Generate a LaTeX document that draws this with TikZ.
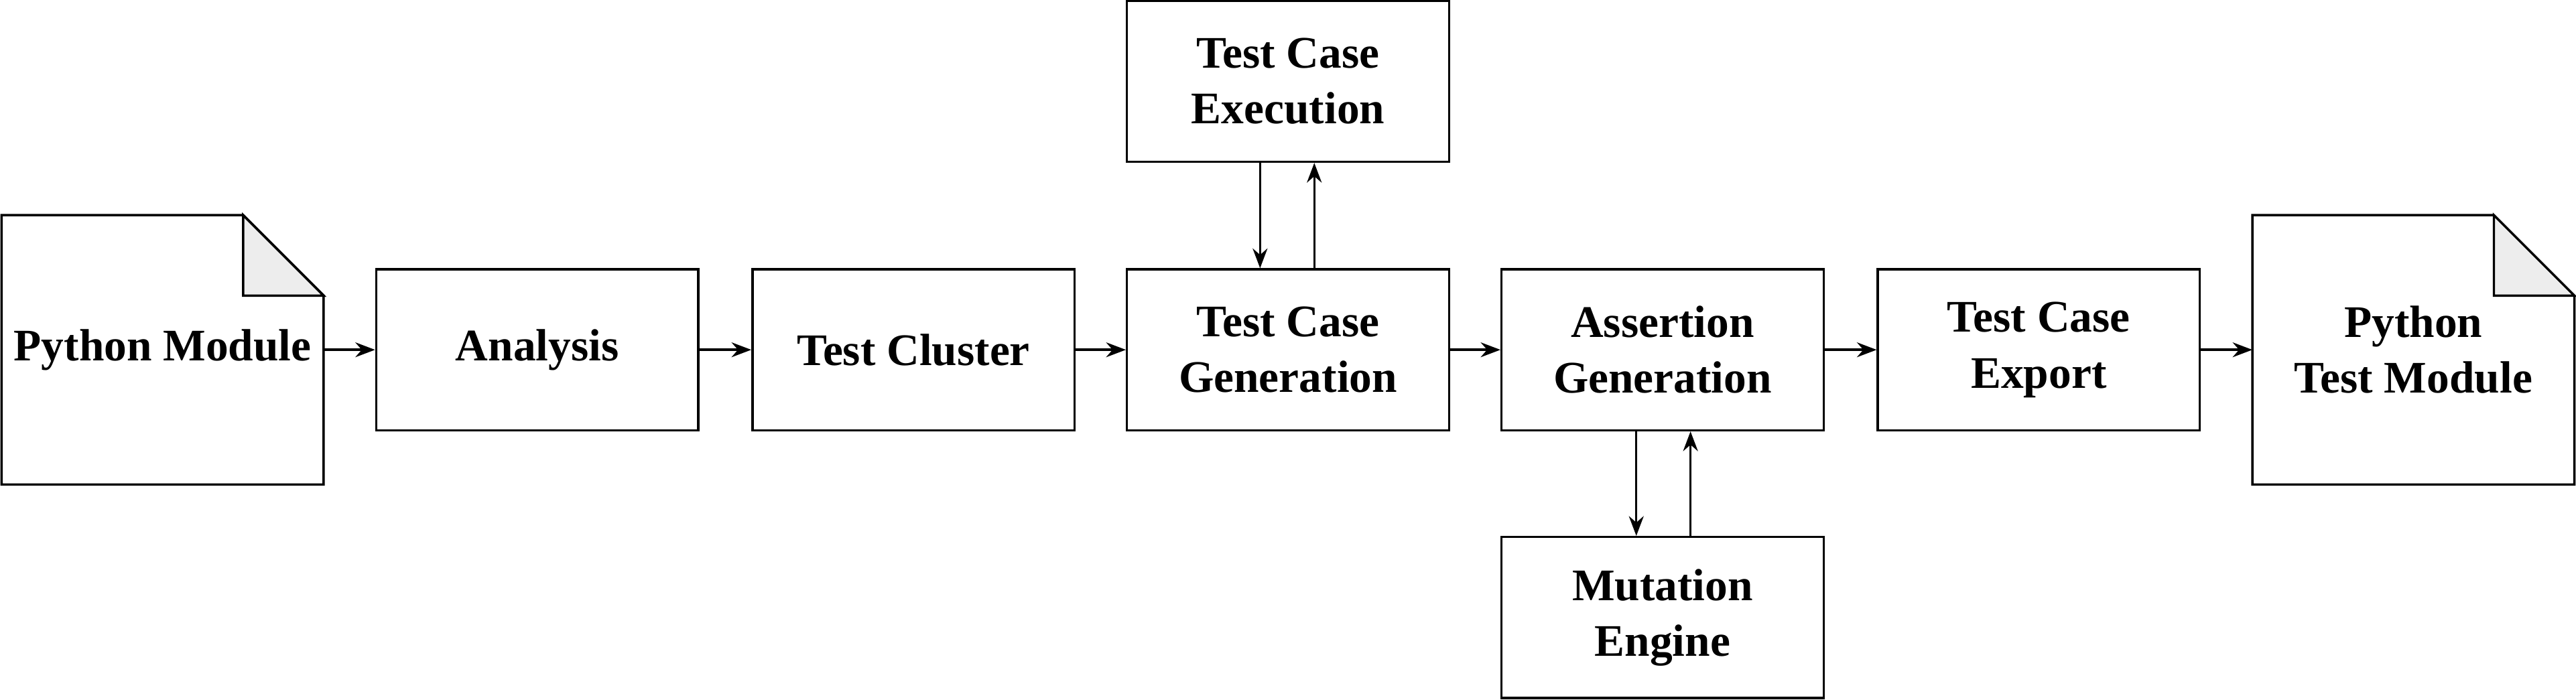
\documentclass[tikz,border=0pt]{standalone}
\usepackage{fontspec}
\setmainfont{Liberation Serif}
\usetikzlibrary{arrows.meta}
\begin{document}
\begin{tikzpicture}[x=1pt,y=-1pt,
  box/.style={draw,line width=1.4pt,minimum width=196pt,minimum height=98pt,align=center,font=\fontsize{27.5}{34}\selectfont\bfseries,inner sep=0pt},
  arr/.style={line width=1.4pt,-{Stealth[length=12pt,width=9pt]}},
  doc/.style={line width=1.4pt}]
\useasboundingbox (0,0) rectangle (1568,426);
% documents
\draw[doc] (1,131) -- (148,131) -- (197,180) -- (197,295) -- (1,295) -- cycle;
\filldraw[doc,fill=black!7] (148,131) -- (148,180) -- (197,180) -- cycle;
\node[box,draw=none,minimum width=196pt,minimum height=164pt] (pm) at (99,213) {Python Module};
\draw[doc] (1371,131) -- (1518,131) -- (1567,180) -- (1567,295) -- (1371,295) -- cycle;
\filldraw[doc,fill=black!7] (1518,131) -- (1518,180) -- (1567,180) -- cycle;
\node[box,draw=none,minimum width=196pt,minimum height=164pt] (ptm) at (1469,213) {Python\\Test Module};
\node[box] (an) at (327,213) {Analysis};
\node[box] (tc) at (556,213) {Test Cluster};
\node[box] (tcg) at (784,213) {Test Case\\Generation};
\node[box] (ag) at (1012,213) {Assertion\\Generation};
\node[box] (ex) at (1241,213) {Test Case\\Export};
\node[box] (tce) at (784,49.5) {Test Case\\Execution};
\node[box] (me) at (1012,376) {Mutation\\Engine};
\draw[arr] (197,213) -- (an.west);
\draw[arr] (an) -- (tc);
\draw[arr] (tc) -- (tcg);
\draw[arr] (tcg) -- (ag);
\draw[arr] (ag) -- (ex);
\draw[arr] (ex) -- (1371,213);
\draw[arr] (tce.south -| 767,0) -- (tcg.north -| 767,0);
\draw[arr] (tcg.north -| 800,0) -- (tce.south -| 800,0);
\draw[arr] (ag.south -| 996,0) -- (me.north -| 996,0);
\draw[arr] (me.north -| 1029,0) -- (ag.south -| 1029,0);
\end{tikzpicture}
\end{document}
